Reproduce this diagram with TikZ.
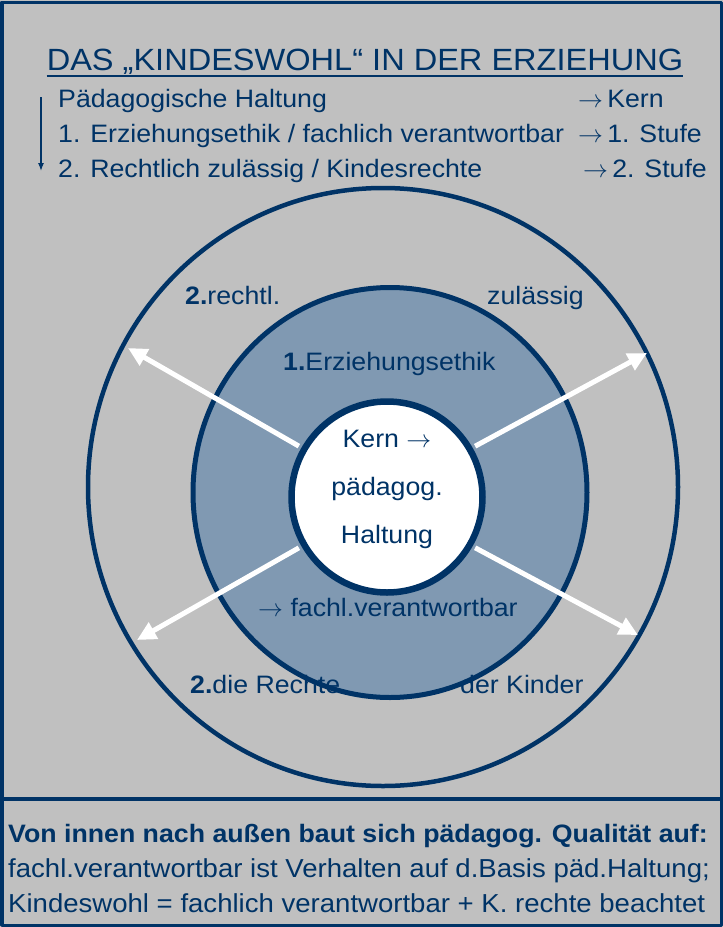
\documentclass[tikz,border=0pt]{standalone}
\usepackage{fontspec}
\setmainfont{Liberation Sans}[FakeStretch=1.06]
\usetikzlibrary{arrows.meta,shapes.geometric}
\definecolor{navy}{RGB}{0,51,102}
\definecolor{hgrau}{RGB}{192,192,192}
\begin{document}
\begin{tikzpicture}[x=1pt,y=-1pt,line join=round,
	txt/.style={inner sep=0pt,text=navy,font=\fontsize{25.2}{28}\selectfont},
	fuss/.style={txt,font=\fontsize{26}{30}\selectfont},
	ring/.style={ellipse,draw=navy,inner sep=0pt},
	pfeil/.style={white,line width=5pt,shorten <=3pt,-{Triangle[length=19pt,width=18pt]}}]
		\useasboundingbox (0,0) rectangle (723,927);
		\fill[hgrau] (0,0) rectangle (723,927);
		\draw[navy,line width=3.5pt] (1.75,2.5) rectangle (721.25,925.25);
		\draw[navy,line width=3.5pt] (0,799)--(723,799);
		% Kopf
		\node[txt,font=\fontsize{30.7}{34}\selectfont,anchor=base] (titel) at (365,70) {DAS „KINDESWOHL“ IN DER ERZIEHUNG};
		\draw[navy,line width=2.5pt] ([yshift=-6pt]titel.base west)--([yshift=-6pt]titel.base east);
		\node[txt,anchor=base west] (p0) at (58,107) {Pädagogische Haltung};
		\node[txt,anchor=base west] (p1) at (58,142) {1. Erziehungsethik / fachlich verantwortbar};
		\node[txt,anchor=base west] (p2) at (58,177) {2. Rechtlich zulässig / Kindesrechte};
		\node[txt,anchor=base west] (k0) at (578,107) {$\rightarrow$\,Kern};
		\node[txt,anchor=base west] (k1) at (578,142) {$\rightarrow$\,1. Stufe};
		\node[txt,anchor=base west] (k2) at (583,177) {$\rightarrow$\,2. Stufe};
		\coordinate (pfeiloben) at (41,97);
		\coordinate (pfeilunten) at (41,171);
		\draw[navy,line width=1.3pt,-{Latex[length=8pt,width=6pt]}] (pfeiloben)--(pfeilunten);
		% Kreise
		\node[ring,line width=4.5pt,minimum width=590pt,minimum height=598pt] (aussen) at (383,487) {};
		\node[ring,line width=5pt,fill=navy!50!white,minimum width=394pt,minimum height=410pt] (ethik) at (390,492.5) {};
		\node[ring,line width=6.5pt,fill=white,minimum size=191pt] (kern) at (387,497) {};
		\coordinate (ol) at (128,348);
		\coordinate (or) at (647,353);
		\coordinate (ul) at (137,640);
		\coordinate (ur) at (638,635);
		\foreach \w/\z in {150/ol,30/or,210/ul,330/ur}
		\draw[pfeil] (kern.\w)--(\z);
		\node[txt,align=center,font=\fontsize{25.2}{48}\selectfont] (kerntext) at (387,489) {Kern $\rightarrow$\\pädagog.\\Haltung};
		\node[txt,anchor=base west] (r1) at (185,304) {\textbf{2.}rechtl.};
		\node[txt,anchor=base west] (r2) at (487,304) {zulässig};
		\node[txt,anchor=base west] (e1) at (283,370) {\textbf{1.}Erziehungsethik};
		\node[txt,anchor=base west] (e2) at (258,616) {$\rightarrow$ fachl.verantwortbar};
		\node[txt,anchor=base west] (r3) at (190,693) {\textbf{2.}die Rechte};
		\node[txt,anchor=base west] (r4) at (460,693) {der Kinder};
		% Fuss
		\node[txt,anchor=base west] (s1) at (8,842) {\textbf{Von innen nach außen baut sich pädagog. Qualität auf:}};
		\node[fuss,anchor=base west] (s2) at (8,877) {fachl.verantwortbar ist Verhalten auf d.Basis päd.Haltung;};
		\node[fuss,anchor=base west] (s3) at (8,912) {Kindeswohl = fachlich verantwortbar + K. rechte beachtet};
\end{tikzpicture}
\end{document}
